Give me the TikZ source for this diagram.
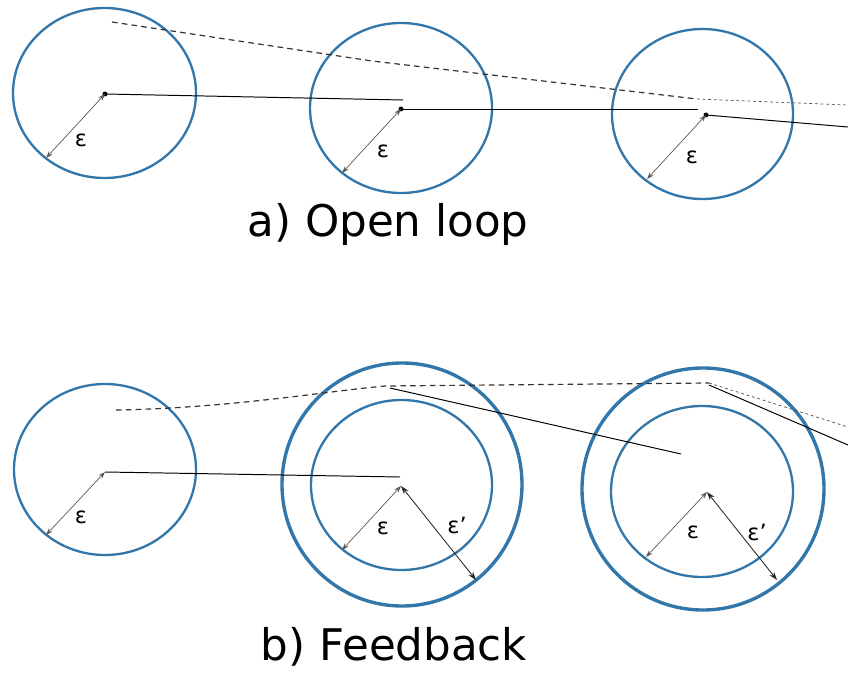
\documentclass[tikz,border=0pt]{standalone}
\usepackage{fontspec}
\setmainfont{DejaVu Sans}
\usetikzlibrary{arrows.meta}
\definecolor{ringblue}{RGB}{50,118,170}
\tikzset{
  ring/.style={draw=ringblue, line width=1.65pt},
  outerring/.style={draw=ringblue, line width=2.4pt},
  path line/.style={draw=black, line width=0.7pt},
  ideal/.style={draw=black!80, line width=0.85pt, dash pattern=on 4pt off 3pt},
  ideal thin/.style={draw=black!70, line width=0.5pt, dash pattern=on 2pt off 2pt},
  radius arrow/.style={draw=black!65, line width=0.5pt, {Stealth[length=5pt,width=3.5pt]}-{Stealth[length=5pt,width=3.5pt]}},
  radius arrow dark/.style={draw=black!85, line width=0.6pt, {Stealth[length=6pt,width=4pt]}-{Stealth[length=6pt,width=4pt]}},
  eps/.style={font=\fontsize{16}{16}\selectfont, inner sep=0pt},
  caption/.style={font=\fontsize{31}{32}\selectfont, inner sep=0pt},
  dot/.style={circle, fill=black, inner sep=0pt, minimum size=3.5pt}
}
\begin{document}
\begin{tikzpicture}[x=0.025cm, y=-0.025cm]
\useasboundingbox (0,0) rectangle (848,675);

% ---- a) open loop ----
\draw[ring] (104.5,93) ellipse [x radius=91.5, y radius=85];
\draw[ring] (401,108) ellipse [x radius=91, y radius=85];
\draw[ring] (702.5,114) ellipse [x radius=90.5, y radius=85];

\node[dot] (a1) at (105,94) {};
\node[dot] (a2) at (401,109) {};
\node[dot] (a3) at (706,115) {};
\coordinate (a1end) at (403,100);
\coordinate (a2end) at (698,109);
\coordinate (a3end) at (848,127);
\draw[path line] (a1.center) -- (a1end);
\draw[path line] (a2.center) -- (a2end);
\draw[path line] (a3.center) -- (a3end);

% dashed reference trajectory
\coordinate (ra0) at (112,22);
\coordinate (ra1) at (372,61);
\coordinate (ra2) at (697,99);
\coordinate (ra3) at (848,105);
\draw[ideal] (ra0) -- (ra1) -- (ra2);
\draw[ideal thin] (ra2) -- (ra3);

% tolerance radii
\coordinate (ea1) at (46,158);
\coordinate (ea2) at (342,173);
\coordinate (ea3) at (647,179);
\draw[radius arrow] (ea1) -- (a1.center);
\draw[radius arrow] (ea2) -- (a2.center);
\draw[radius arrow] (ea3) -- (a3.center);
\node[eps] (la1) at (81,140) {ε};
\node[eps] (la2) at (383,151) {ε};
\node[eps] (la3) at (692,157) {ε};

\node[caption] (capa) at (388,224) {a) Open loop};

% ---- b) feedback ----
\draw[ring] (105,469.5) ellipse [x radius=91, y radius=85.5];
\draw[outerring] (402,484.5) ellipse [x radius=120, y radius=121.5];
\draw[ring] (401.5,485) ellipse [x radius=90.5, y radius=85];
\draw[outerring] (703,489) ellipse [x radius=121, y radius=121];
\draw[ring] (702,491.5) ellipse [x radius=91, y radius=85.5];

\coordinate (b1) at (105,472);
\coordinate (b2) at (401,486);
\coordinate (b3) at (707,492);
\coordinate (b1end) at (400,477);
\coordinate (b2start) at (390,388);
\coordinate (b2end) at (681,454);
\coordinate (b3start) at (709,385);
\coordinate (b3end) at (848,445);
\draw[path line] (b1) -- (b1end);
\draw[path line] (b2start) -- (b2end);
\draw[path line] (b3start) -- (b3end);

% dashed reference trajectory
\coordinate (rb0) at (116,410);
\coordinate (rb1) at (385,386);
\coordinate (rb2) at (709,383);
\coordinate (rb3) at (848,427);
\draw[ideal] (rb0) .. controls (230,408) and (320,392) .. (rb1) -- (rb2);
\draw[ideal thin] (rb2) -- (rb3);

% tolerance radii
\coordinate (eb1) at (46,535);
\coordinate (eb2) at (342,550);
\coordinate (eb3) at (646,557);
\coordinate (fb2) at (476,580);
\coordinate (fb3) at (777,580);
\draw[radius arrow] (eb1) -- (b1);
\draw[radius arrow] (eb2) -- (b2);
\draw[radius arrow] (eb3) -- (b3);
\draw[radius arrow dark] (b2) -- (fb2);
\draw[radius arrow dark] (b3) -- (fb3);
\node[eps] (lb1) at (81,517) {ε};
\node[eps] (lb2) at (383,528) {ε};
\node[eps] (lb3) at (693,532) {ε};
\node[eps] (mb2) at (457,525) {ε\char"0027};
\node[eps] (mb3) at (757,532) {ε\char"0027};

\node[caption] (capb) at (394,647) {b) Feedback};
\end{tikzpicture}
\end{document}
